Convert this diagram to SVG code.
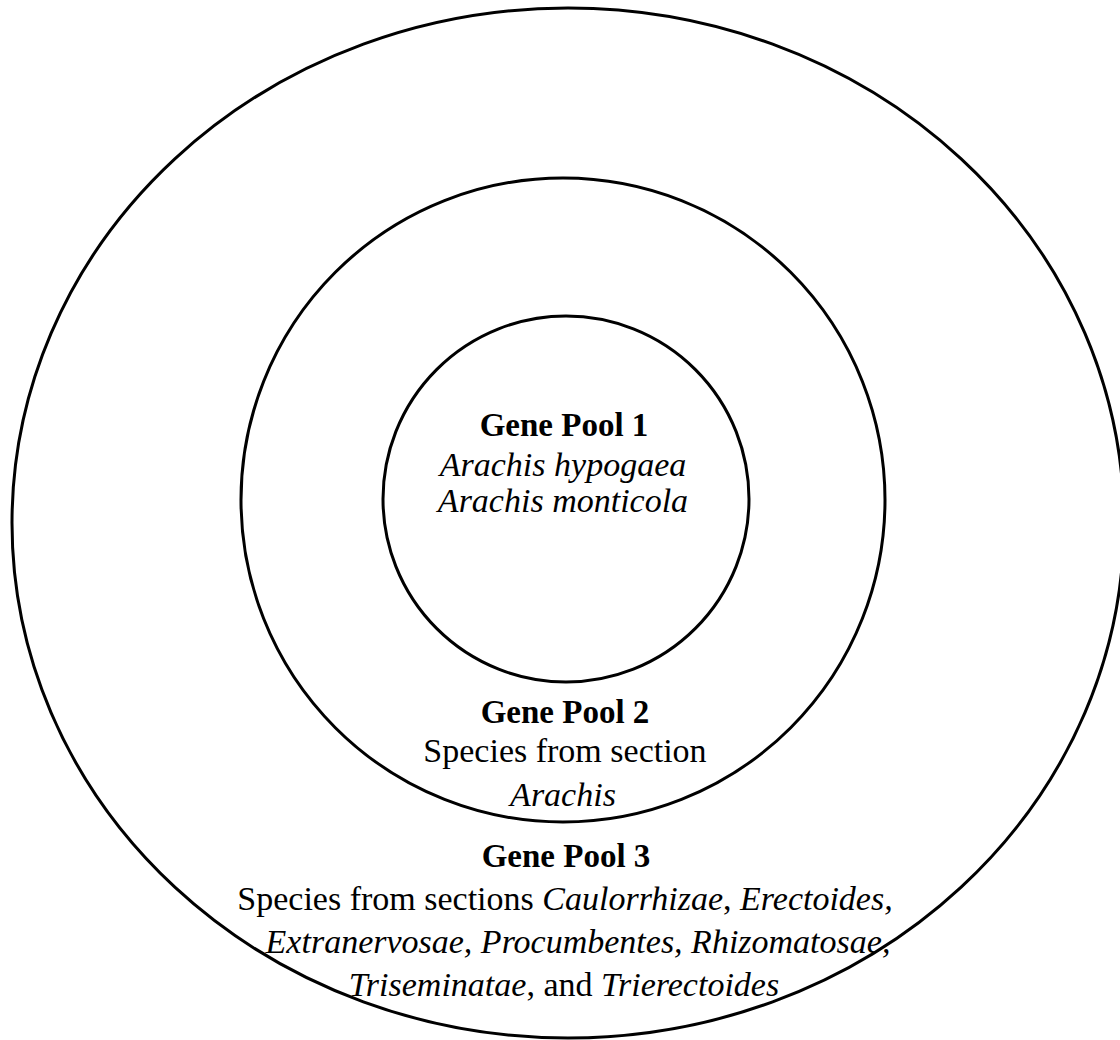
<svg xmlns="http://www.w3.org/2000/svg" width="1120" height="1040" viewBox="0 0 1120 1040">
  <style>
    .ring { fill: none; stroke: #000; stroke-width: 3; }
    .t { font-family: "Liberation Serif", "Times New Roman", serif; fill: #000; text-anchor: middle; font-size: 34px; }
    .h { font-weight: bold; font-size: 33px; }
    .i { font-style: italic; }
  </style>
  <rect width="1120" height="1040" fill="#fff"/>

  <!-- Gene Pool 3: outermost ring -->
  <g id="pool3">
    <ellipse class="ring" cx="568" cy="523" rx="556" ry="515"/>
    <text class="t h" x="566" y="867">Gene Pool 3</text>
    <text class="t" x="565" y="910">Species from sections <tspan class="i">Caulorrhizae</tspan>, <tspan class="i">Erectoides,</tspan></text>
    <text class="t i" x="578" y="953">Extranervosae, Procumbentes, Rhizomatosae,</text>
    <text class="t" x="564" y="996"><tspan class="i">Triseminatae</tspan>, and <tspan class="i">Trierectoides</tspan></text>
  </g>

  <!-- Gene Pool 2: middle ring -->
  <g id="pool2">
    <circle class="ring" cx="563" cy="500" r="322"/>
    <text class="t h" x="565" y="723">Gene Pool 2</text>
    <text class="t" x="565" y="762">Species from section</text>
    <text class="t i" x="563" y="806">Arachis</text>
  </g>

  <!-- Gene Pool 1: inner circle -->
  <g id="pool1">
    <circle class="ring" cx="566" cy="499" r="183"/>
    <text class="t h" x="564" y="436">Gene Pool 1</text>
    <text class="t i" x="563" y="476">Arachis hypogaea</text>
    <text class="t i" x="563" y="512">Arachis monticola</text>
  </g>

  <g id="connectors"/>
</svg>
